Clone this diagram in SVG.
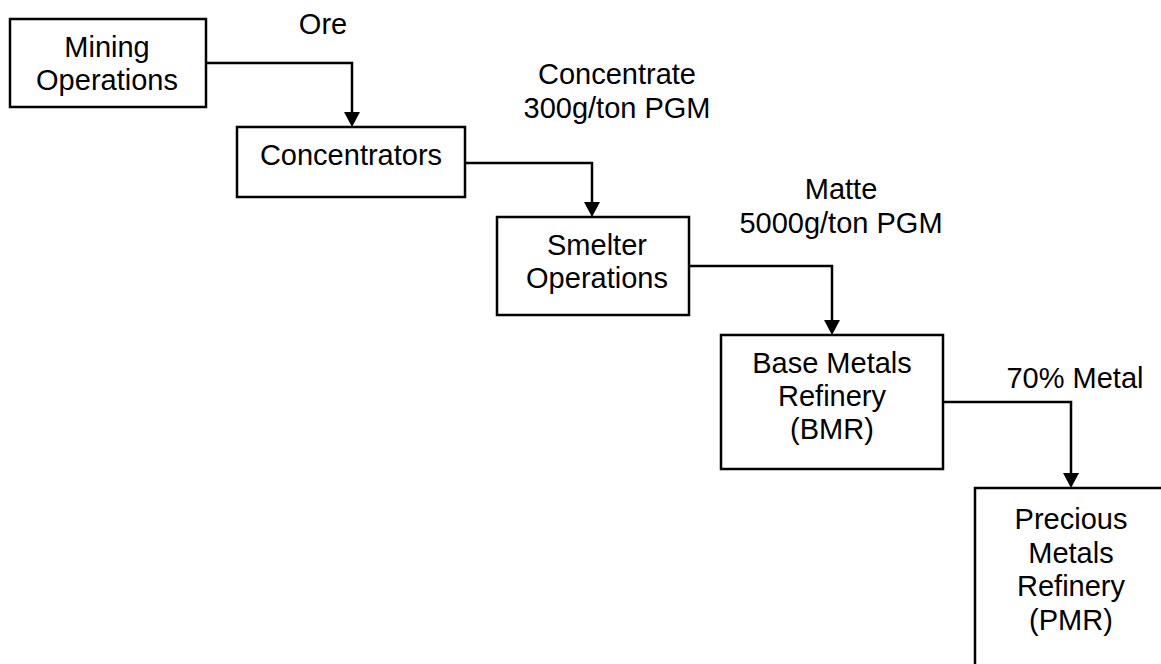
<svg xmlns="http://www.w3.org/2000/svg" width="1161" height="664" viewBox="0 0 1161 664">
<style>
.box{fill:#fff;stroke:#000;stroke-width:2.5}
.t{font-family:"Liberation Sans",Arial,sans-serif;font-size:29px;fill:#000;text-anchor:middle}
.c{fill:none;stroke:#000;stroke-width:2.5}
.ah{fill:#000}
</style>
<rect width="1161" height="664" fill="#fff"/>
<g id="connectors">
<path class="c" d="M206,63 H352 V112"/>
<polygon class="ah" points="344,112 360,112 352,127"/>
<path class="c" d="M465,163 H592 V202"/>
<polygon class="ah" points="584,202 600,202 592,217"/>
<path class="c" d="M689,266 H832 V320"/>
<polygon class="ah" points="824,320 840,320 832,335"/>
<path class="c" d="M943,402 H1071 V473"/>
<polygon class="ah" points="1063,473 1079,473 1071,488"/>
</g>
<g id="labels">
<text class="t" x="323" y="34">Ore</text>
<text class="t" x="617" y="84">Concentrate</text>
<text class="t" x="617" y="118">300g/ton PGM</text>
<text class="t" x="841" y="199">Matte</text>
<text class="t" x="841" y="233">5000g/ton PGM</text>
<text class="t" x="1075" y="388">70% Metal</text>
</g>
<g id="mining">
<rect class="box" x="10" y="19" width="196" height="88"/>
<text class="t" x="107" y="56.5">Mining</text>
<text class="t" x="107" y="90">Operations</text>
</g>
<g id="concentrators">
<rect class="box" x="237" y="127" width="228" height="70"/>
<text class="t" x="351" y="165">Concentrators</text>
</g>
<g id="smelter">
<rect class="box" x="497" y="217" width="192" height="98"/>
<text class="t" x="597" y="255">Smelter</text>
<text class="t" x="597" y="288">Operations</text>
</g>
<g id="bmr">
<rect class="box" x="721" y="335" width="222" height="134"/>
<text class="t" x="832" y="373">Base Metals</text>
<text class="t" x="832" y="406">Refinery</text>
<text class="t" x="832" y="439">(BMR)</text>
</g>
<g id="pmr">
<rect class="box" x="975" y="488" width="200" height="200"/>
<text class="t" x="1071" y="529">Precious</text>
<text class="t" x="1071" y="562.5">Metals</text>
<text class="t" x="1071" y="596">Refinery</text>
<text class="t" x="1071" y="629.5">(PMR)</text>
</g>
</svg>
